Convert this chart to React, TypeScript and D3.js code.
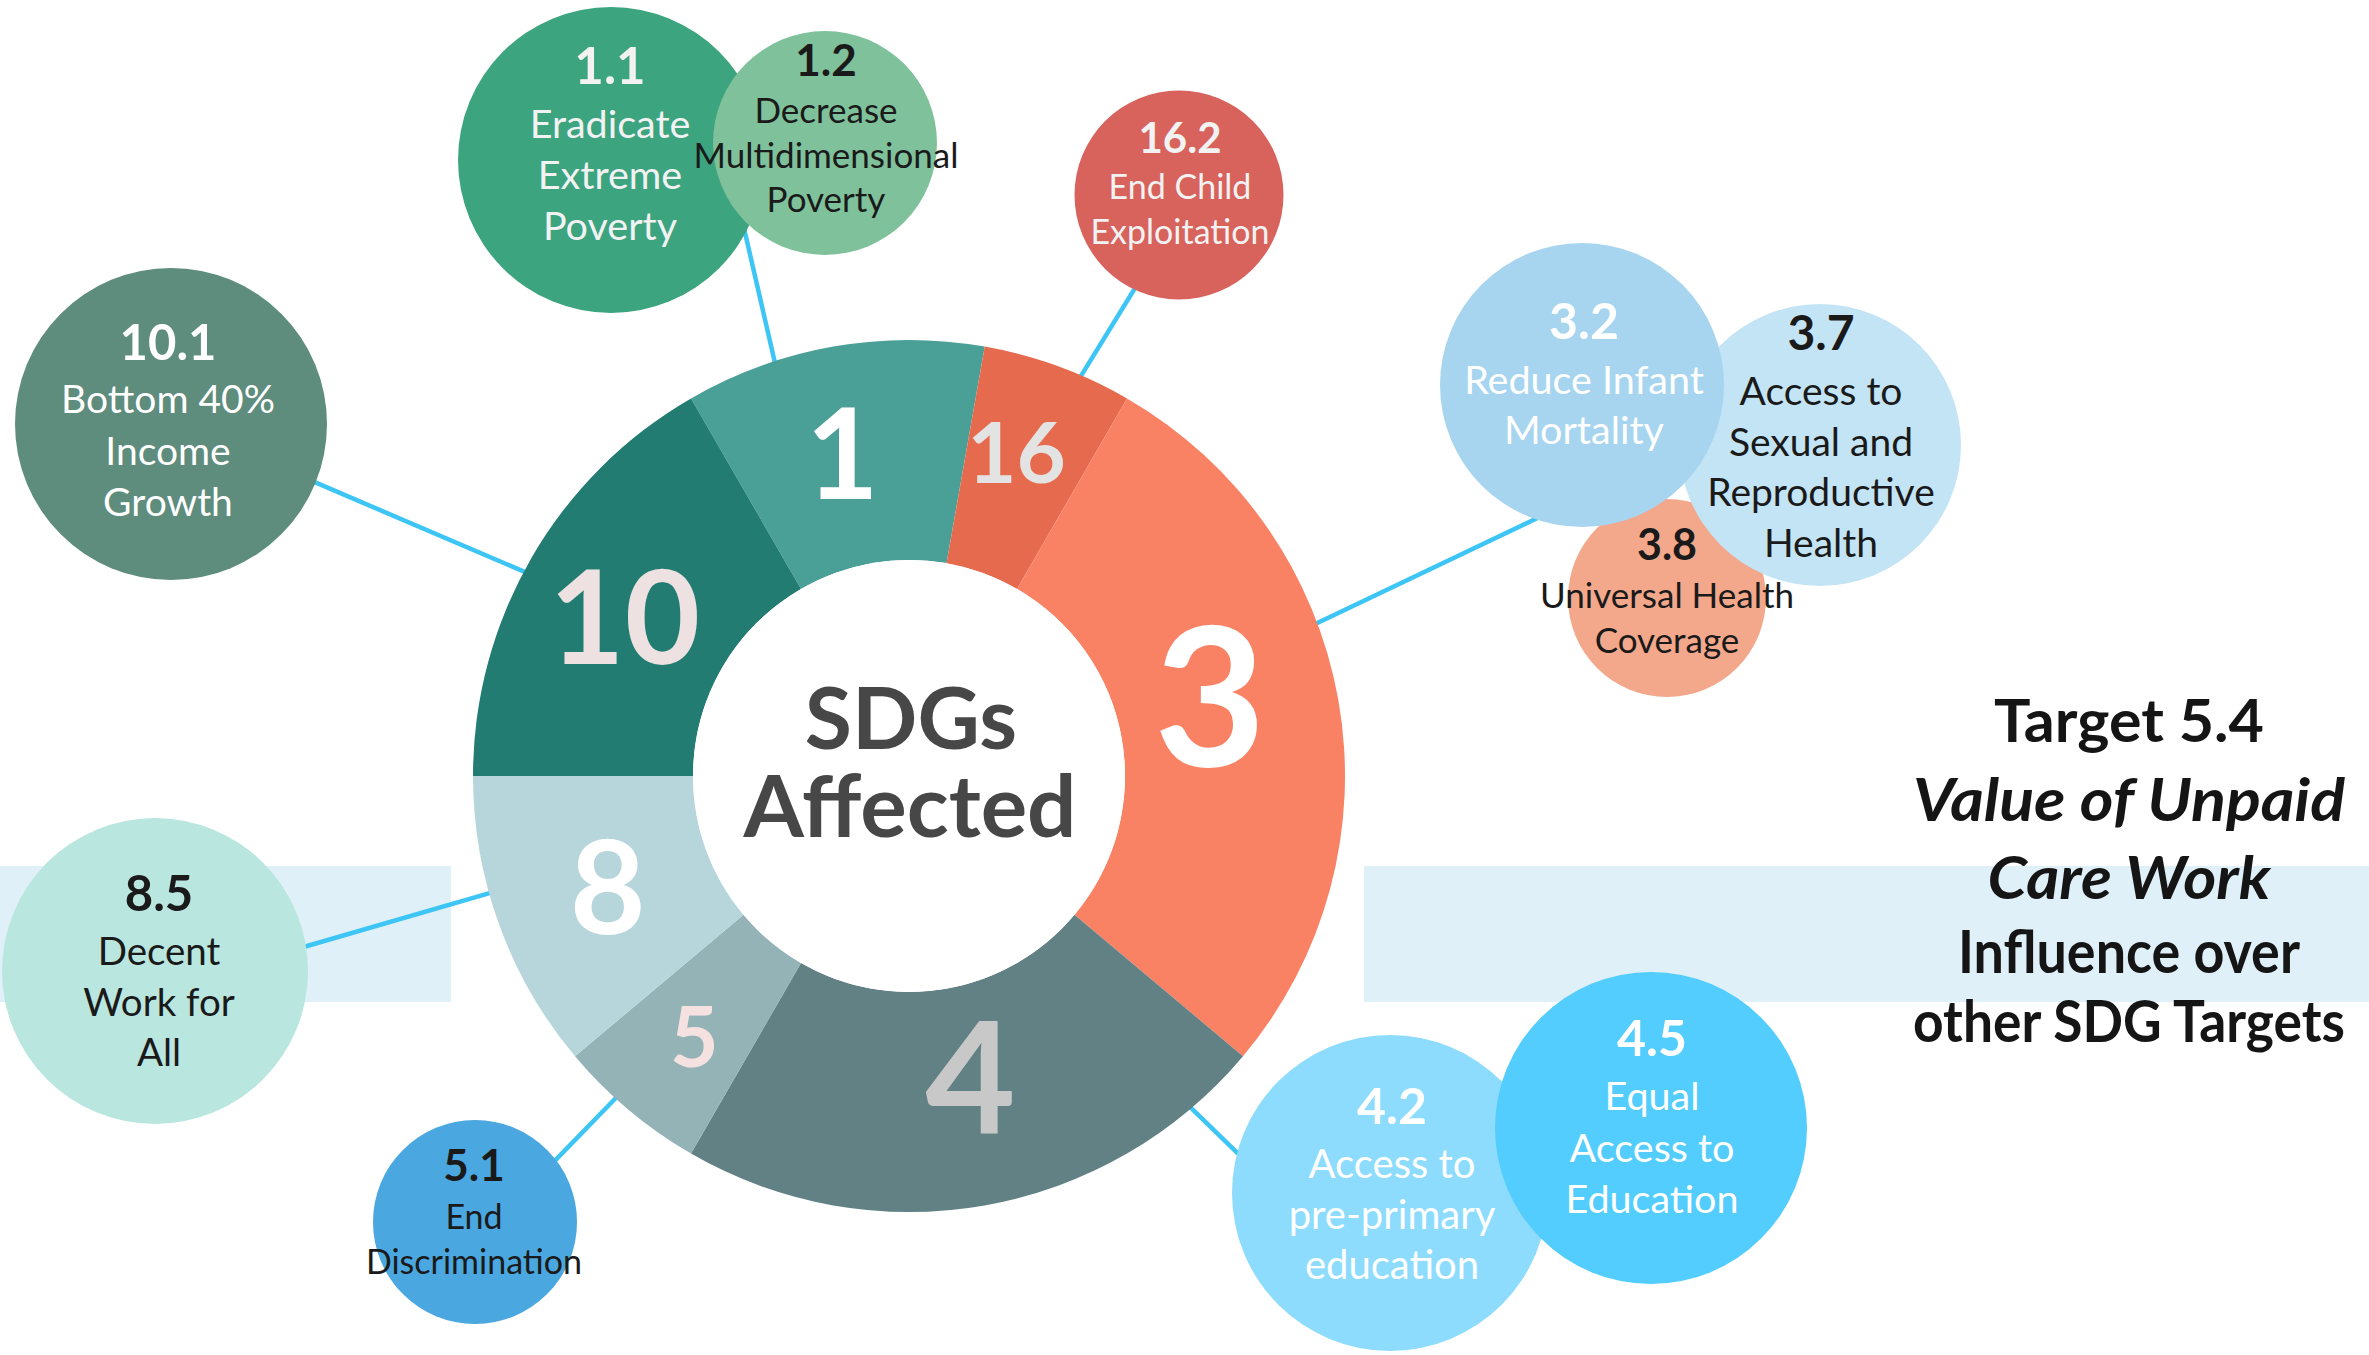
import React from 'react';
import * as d3 from 'd3';

// ---------- DATA ----------
const goalIds = ['1', '16', '3', '4', '5', '8', '10'];
const goalShares = [2, 1, 5, 4, 1, 2, 3];

const targetIds = ['1.1', '1.2', '16.2', '10.1', '3.8', '3.7', '3.2', '8.5', '5.1', '4.2', '4.5'];
const targetTexts = [
  ['Eradicate', 'Extreme', 'Poverty'],
  ['Decrease', 'Multidimensional', 'Poverty'],
  ['End Child', 'Exploitation'],
  ['Bottom 40%', 'Income', 'Growth'],
  ['Universal Health', 'Coverage'],
  ['Access to', 'Sexual and', 'Reproductive', 'Health'],
  ['Reduce Infant', 'Mortality'],
  ['Decent', 'Work for', 'All'],
  ['End', 'Discrimination'],
  ['Access to', 'pre-primary', 'education'],
  ['Equal', 'Access to', 'Education'],
];

const linkGoals = ['1', '16', '3', '10', '8', '5', '4'];
const linkTargets = ['1.1', '16.2', '3.2', '10.1', '8.5', '5.1', '4.2'];

const titleLines = ['Target 5.4', 'Value of Unpaid', 'Care Work', 'Influence over', 'other SDG Targets'];
const centerLines = ['SDGs', 'Affected'];

// ---------- STYLE / LAYOUT ----------
const W = 2369;
const H = 1355;
const CX = 909;
const CY = 776;
const R_IN = 216;
const R_OUT = 436;

const goalStyle: Record<string, { fill: string; ink: string; size: number; nudge: [number, number] }> = {
  '1': { fill: '#4A9F97', ink: '#FFFFFF', size: 126, nudge: [-10, -1] },
  '16': { fill: '#E66B4E', ink: '#E3E3E3', size: 85, nudge: [-4, -17] },
  '3': { fill: '#F98265', ink: '#FFFFFF', size: 193, nudge: [-20, -23] },
  '4': { fill: '#628185', ink: '#C8C8C8', size: 156, nudge: [5, -20] },
  '5': { fill: '#94B3B7', ink: '#F6E1E1', size: 84, nudge: [-5, 11] },
  '8': { fill: '#B7D6DB', ink: '#FFFFFF', size: 131, nudge: [5, 0] },
  '10': { fill: '#227C72', ink: '#EDE1E1', size: 130, nudge: [-2, 4] },
};

type TL = { cx: number; cy: number; r: number; tx: number; num: number; txt: number; numDy: number; lineDy: number; gap: number; fill: string; ink: string };
const targetLayout: Record<string, TL> = {
  '1.1': { cx: 611, cy: 160, r: 153, tx: 610, num: 51, txt: 39.5, numDy: -76, lineDy: -22.5, gap: 51.3, fill: '#3DA480', ink: '#F2F2F2' },
  '1.2': { cx: 825, cy: 143, r: 112, tx: 826, num: 44, txt: 35, numDy: -67, lineDy: -20, gap: 44.7, fill: '#7FC19B', ink: '#1A1A1A' },
  '16.2': { cx: 1179, cy: 195, r: 104.5, tx: 1180, num: 42, txt: 34, numDy: -42, lineDy: 4, gap: 45, fill: '#D8625C', ink: '#F2F2F2' },
  '10.1': { cx: 171, cy: 424, r: 156, tx: 168, num: 49, txt: 39, numDy: -64, lineDy: -11, gap: 51.5, fill: '#5E8C7D', ink: '#FFFFFF' },
  '3.8': { cx: 1667, cy: 598, r: 99, tx: 1667, num: 43, txt: 35, numDy: -38, lineDy: 10, gap: 45, fill: '#F3A88B', ink: '#1A1A1A' },
  '3.7': { cx: 1820, cy: 445, r: 141, tx: 1821, num: 48, txt: 39, numDy: -95, lineDy: -40, gap: 50.6, fill: '#C3E4F5', ink: '#1A1A1A' },
  '3.2': { cx: 1582, cy: 385, r: 142, tx: 1584, num: 50, txt: 39.5, numDy: -46, lineDy: 9, gap: 50, fill: '#A7D5F0', ink: '#FFFFFF' },
  '8.5': { cx: 155, cy: 971, r: 153, tx: 159, num: 49, txt: 38.5, numDy: -60, lineDy: -6, gap: 50.5, fill: '#BAE6E0', ink: '#1A1A1A' },
  '5.1': { cx: 475, cy: 1222, r: 102, tx: 474, num: 44, txt: 34, numDy: -41, lineDy: 7, gap: 45, fill: '#4AA7E0', ink: '#1A1A1A' },
  '4.2': { cx: 1390, cy: 1193, r: 158, tx: 1392, num: 50, txt: 40, numDy: -69, lineDy: -15, gap: 50.5, fill: '#8EDCFD', ink: '#FFFFFF' },
  '4.5': { cx: 1651, cy: 1128, r: 156, tx: 1652, num: 50, txt: 39.5, numDy: -72, lineDy: -18, gap: 51.5, fill: '#53CDFD', ink: '#FFFFFF' },
};

// angle (deg, clockwise from 12 o'clock) where each connector leaves the ring / meets the bubble
const linkAngles: Record<string, [number, number]> = {
  '1.1': [-18, 116],
  '16.2': [23.2, 205],
  '3.2': [69.5, 196.6],
  '10.1': [-62, 112],
  '8.5': [254.4, 81],
  '5.1': [222.3, 52.9],
  '4.2': [139.7, 283.5],
};

const titleStyle = [
  { italic: false, y: 742, w: 270, size: 60 },
  { italic: true, y: 821, w: 432, size: 60 },
  { italic: true, y: 899, w: 283, size: 60 },
  { italic: false, y: 973, w: 342, size: 59 },
  { italic: false, y: 1042, w: 432, size: 58 },
];

const FONT = 'Lato, "Open Sans", sans-serif';
const LINK_COLOR = '#3DC5F5';
const BAND = '#DFF0F8';

const polar = (x: number, y: number, r: number, deg: number): [number, number] => {
  const a = (deg * Math.PI) / 180;
  return [x + r * Math.sin(a), y - r * Math.cos(a)];
};

export default function App() {
  const pie = d3
    .pie<number>()
    .sort(null)
    .value((d) => d)
    .startAngle(-Math.PI / 6)
    .endAngle(2 * Math.PI - Math.PI / 6);
  const arcs = pie(goalShares);
  const arc = d3.arc<d3.PieArcDatum<number>>().innerRadius(R_IN).outerRadius(R_OUT);

  return (
    <svg width={W} height={H} viewBox={`0 0 ${W} ${H}`} style={{ position: 'absolute', left: 0, top: 0, background: '#fff' }}>
      {/* light bands */}
      <rect x={0} y={866} width={451} height={136} fill={BAND} />
      <rect x={1364} y={866} width={W - 1364} height={136} fill={BAND} />

      {/* connectors */}
      <g stroke={LINK_COLOR} strokeWidth={4.5} fill="none">
        {linkTargets.map((t, i) => {
          const L = targetLayout[t];
          const [a0, a1] = linkAngles[t];
          const p0 = polar(CX, CY, R_OUT - 4, a0);
          const p1 = polar(L.cx, L.cy, L.r - 6, a1);
          return <line key={linkGoals[i] + t} x1={p0[0]} y1={p0[1]} x2={p1[0]} y2={p1[1]} />;
        })}
      </g>

      {/* donut */}
      <g transform={`translate(${CX},${CY})`}>
        {arcs.map((a, i) => (
          <path key={goalIds[i]} d={arc(a) || ''} fill={goalStyle[goalIds[i]].fill} />
        ))}
        <circle r={R_IN} fill="#fff" />
        {arcs.map((a, i) => {
          const id = goalIds[i];
          const s = goalStyle[id];
          const [x, y] = arc.centroid(a);
          return (
            <text
              key={'l' + id}
              x={x + s.nudge[0]}
              y={y + s.nudge[1] + 0.358 * s.size}
              textAnchor="middle"
              fontFamily={FONT}
              fontWeight={700}
              fontSize={s.size}
              fill={s.ink}
            >
              {id}
            </text>
          );
        })}
        <text y={749 - CY} x={2} textAnchor="middle" fontFamily={FONT} fontWeight={700} fontSize={86} fill="#474747">
          {centerLines[0]}
        </text>
        <text y={837 - CY} x={1} textAnchor="middle" fontFamily={FONT} fontWeight={700} fontSize={87} fill="#474747">
          {centerLines[1]}
        </text>
      </g>

      {/* target bubbles */}
      <g>
        {targetIds.map((t) => {
          const L = targetLayout[t];
          return <circle key={'c' + t} cx={L.cx} cy={L.cy} r={L.r} fill={L.fill} />;
        })}
      </g>
      <g fontFamily={FONT} textAnchor="middle">
        {targetIds.map((t, i) => {
          const L = targetLayout[t];
          return (
            <g key={'t' + t} fill={L.ink}>
              <text x={L.tx} y={L.cy + L.numDy} fontWeight={700} fontSize={L.num}>
                {t}
              </text>
              {targetTexts[i].map((line, j) => (
                <text key={j} x={L.tx} y={L.cy + L.lineDy + j * L.gap} fontSize={L.txt}>
                  {line}
                </text>
              ))}
            </g>
          );
        })}
      </g>

      {/* title */}
      <g fontFamily={FONT} fontWeight={700} fill="#151515">
        {titleLines.map((line, i) => {
          const s = titleStyle[i];
          return (
            <text
              key={line}
              x={2129 - s.w / 2}
              y={s.y}
              fontSize={s.size}
              textLength={s.w}
              lengthAdjust="spacingAndGlyphs"
              fontStyle={s.italic ? 'italic' : 'normal'}
            >
              {line}
            </text>
          );
        })}
      </g>
    </svg>
  );
}
